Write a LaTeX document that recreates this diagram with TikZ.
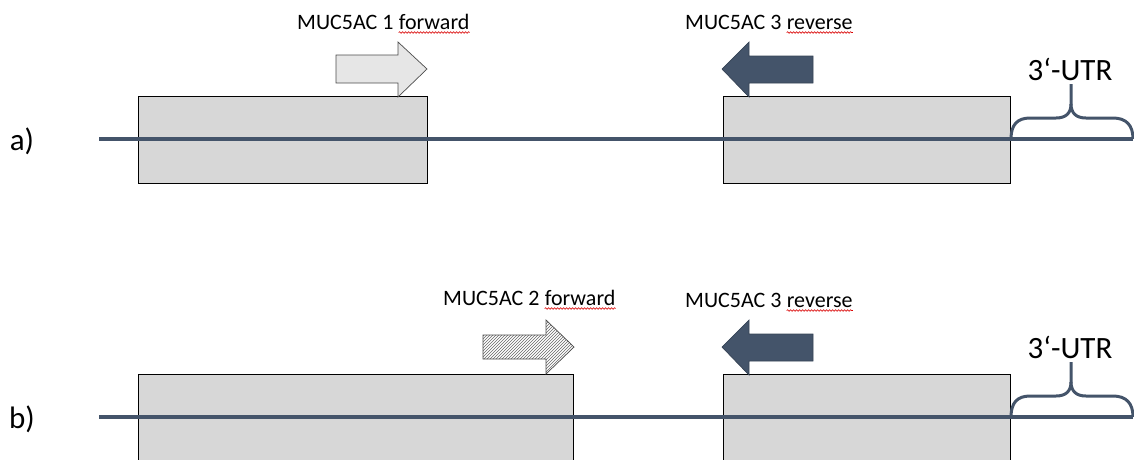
\documentclass[tikz,border=0pt]{standalone}
\usepackage{fontspec}
\setmainfont{Carlito}
\usetikzlibrary{patterns,decorations.pathmorphing}

\definecolor{slate}{HTML}{44546A}
\definecolor{boxgray}{HTML}{D7D7D7}
\definecolor{arrowlight}{HTML}{E6E6E6}

\tikzset{
  exonbox/.style={draw=black, line width=0.8pt, fill=boxgray},
  strand/.style={draw=slate, line width=3.4pt},
  utrbrace/.style={draw=slate, line width=3pt, line join=round},
  primerlabel/.style={font=\fontsize{22}{26}\selectfont, anchor=base west, inner sep=0pt},
  biglabel/.style={font=\fontsize{31}{36}\selectfont, anchor=base, inner sep=0pt},
  fwdlight/.style={draw=black!70, line width=0.7pt, fill=arrowlight},
  fwdhatch/.style={draw=black!70, line width=0.7pt, pattern=north east lines, pattern color=black!60},
  revdark/.style={draw=slate!80!black, line width=0.7pt, fill=slate},
  spellmark/.style={draw=red!85!black, line width=0.6pt, decorate,
    decoration={snake, amplitude=0.8pt, segment length=3pt}},
}

% primer label: name, left base point, prefix, underlined word
\newcommand\primertext[4]{%
  \node[primerlabel] (#1) at #2 {#3};
  \node[primerlabel] (#1-w) at ([xshift=5pt]#1.base east) {#4};
  \draw[spellmark] ([yshift=-3.5pt]#1-w.base west) -- ([yshift=-3.5pt]#1-w.base east);
}

% 3'-UTR brace above the strand
\newcommand\utrmark{%
  \draw[utrbrace] (1011,139) .. controls (1011,125) and (1017,118) .. (1030,118)
    -- (1056,118) .. controls (1066,118) and (1071,113) .. (1071,104)
    -- (1071,84);
  \draw[utrbrace] (1071,104) .. controls (1071,113) and (1076,118) .. (1086,118)
    -- (1113,118) .. controls (1126,118) and (1133,125) .. (1133,139);
}

\begin{document}
\begin{tikzpicture}[x=1pt, y=-1pt]
\useasboundingbox (0,0) rectangle (1134,459);

% ---------- panel a ----------
\draw[exonbox] (138,96) rectangle (427,183);
\draw[exonbox] (723,96) rectangle (1010,183);
\coordinate (a-start) at (99,139);
\coordinate (a-end) at (1133,139);
\draw[strand] (a-start) -- (a-end);

% forward primer 1
\draw[fwdlight] (336,55) -- (398,55) -- (398,42) -- (427,69) -- (398,97) -- (398,83) -- (336,83) -- cycle;
% reverse primer 3
\draw[revdark] (813,56) -- (749,56) -- (749,42) -- (722,69) -- (749,97) -- (749,83) -- (813,83) -- cycle;

\primertext{a-fwd}{(297,29)}{MUC5AC 1}{forward}
\primertext{a-rev}{(685,29)}{MUC5AC 3}{reverse}

\utrmark
\node[biglabel] (a-utr) at (1070,80) {3‘-UTR};
\node[biglabel] (a-tag) at (22,150) {a)};

% ---------- panel b ----------
\begin{scope}[yshift=-278pt]
\draw[exonbox] (138,96) rectangle (573,190);
\draw[exonbox] (723,96) rectangle (1010,190);
\coordinate (b-start) at (99,139);
\coordinate (b-end) at (1133,139);
\draw[strand] (b-start) -- (b-end);

% forward primer 2
\draw[fwdhatch] (483,57) -- (546,57) -- (546,42) -- (574,69) -- (546,96) -- (546,81) -- (483,81) -- cycle;
% reverse primer 3
\draw[revdark] (813,56) -- (749,56) -- (749,42) -- (722,69) -- (749,97) -- (749,83) -- (813,83) -- cycle;

\primertext{b-fwd}{(443,27)}{MUC5AC 2}{forward}
\primertext{b-rev}{(685,29)}{MUC5AC 3}{reverse}

\utrmark
\node[biglabel] (b-utr) at (1070,80) {3‘-UTR};
\node[biglabel] (b-tag) at (22,150) {b)};
\end{scope}
\end{tikzpicture}
\end{document}
